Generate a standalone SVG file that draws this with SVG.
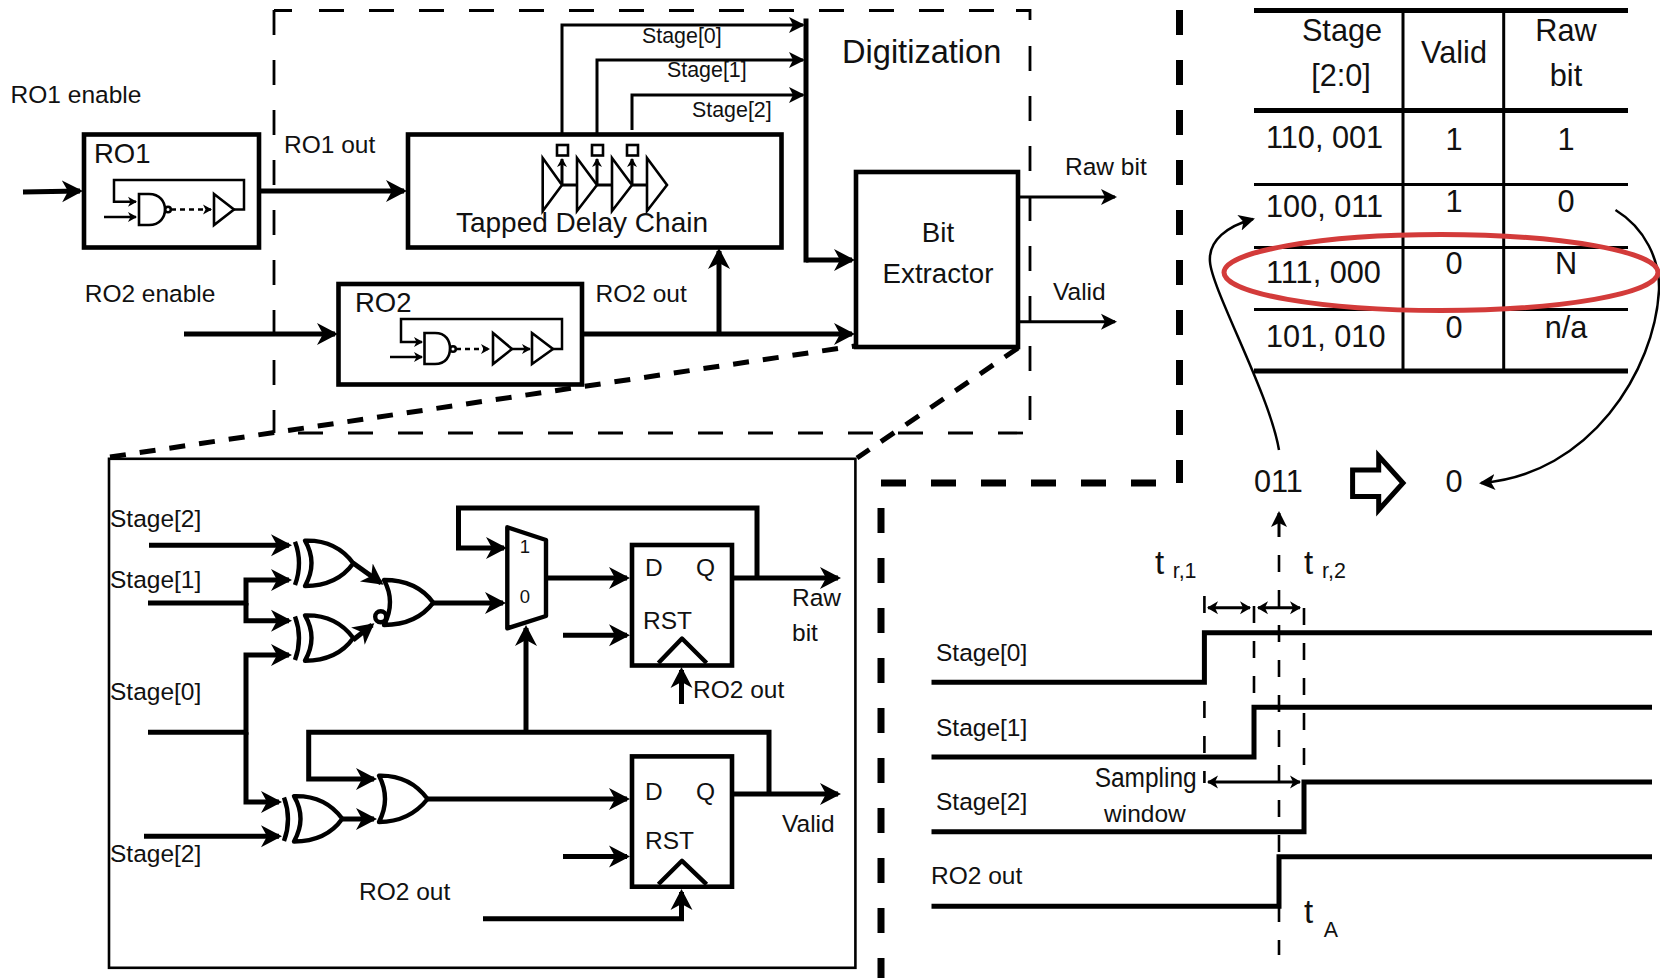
<svg xmlns="http://www.w3.org/2000/svg" width="1660" height="978" viewBox="0 0 1660 978">
<style>
text{font-family:"Liberation Sans",Arial,sans-serif;fill:#111;font-size:24.500px}
.s{font-size:21.400px}.m{font-size:30.700px}.c{text-anchor:middle}
.w5,.w3,.w2,.box,.g,.gt{fill:none;stroke:#000}
.w5{stroke-width:5}.w3{stroke-width:3}.w2{stroke-width:2.5}
.box{fill:#fff;stroke-width:4.6}
.g{fill:#fff;stroke-width:4.4;stroke-linejoin:round}
.gt{fill:#fff;stroke-width:2.6}
.d3{fill:none;stroke:#000;stroke-width:2.8;stroke-dasharray:25 25}
.d7{fill:none;stroke:#000;stroke-width:7;stroke-dasharray:25 25}
.dz{fill:none;stroke:#000;stroke-width:5;stroke-dasharray:16 14}
.dt{fill:none;stroke:#000;stroke-width:2.6;stroke-dasharray:17 18}
.big{marker-end:url(#a5)}.mid{marker-end:url(#a3)}.sm{marker-end:url(#a2)}
.both{marker-start:url(#a2d);marker-end:url(#a2d)}
</style>
<defs>
<marker id="a5" markerUnits="userSpaceOnUse" markerWidth="26" markerHeight="26" refX="18" refY="13" orient="auto"><path d="M0 2L21 13L0 24L6 13z"/></marker>
<marker id="a3" markerUnits="userSpaceOnUse" markerWidth="20" markerHeight="20" refX="14" refY="10" orient="auto"><path d="M0 2L16 10L0 18L4 10z"/></marker>
<marker id="a2" markerUnits="userSpaceOnUse" markerWidth="12" markerHeight="12" refX="8" refY="6" orient="auto"><path d="M0 1L9 6L0 11L2.500 6z"/></marker>
<marker id="a2d" markerUnits="userSpaceOnUse" markerWidth="14" markerHeight="16" refX="10" refY="8" orient="auto-start-reverse"><path d="M0 1.500L11 8L0 14.500L3 8z"/></marker>
<path id="xorb" d="M305 540.700C330 540 345 552 353.300 563.300C345 575 330 586 305 586Q318 563 305 540.700Z"/>
</defs>

<g id="digitization-frame">
<path class="d3" d="M274 10V433"/>
<path class="d3" d="M319 10.500H1016"/>
<path d="M274 10.500H292M1016 10.500H1030V20" fill="none" stroke="#000" stroke-width="2.800"/>
<path class="d3" d="M1030 46V420" stroke-dasharray="24 26"/>
<path class="d3" d="M298 433H1024"/>
<text x="842" y="63" style="font-size:32.600px">Digitization</text>
</g>

<g id="section-dividers">
<path class="d7" d="M1179.500 10V483"/>
<path class="d7" d="M881 483H1156"/>
<path class="d7" d="M881 508V978"/>
</g>

<g id="connectors">
<path class="w5 big" d="M23 192L80 191"/>
<path class="w5 big" d="M260 191H404"/>
<path class="w5 big" d="M184 334H335"/>
<path class="w5 big" d="M582 334H852"/>
<path class="w5 big" d="M719 334V251"/>
<path class="w3 mid" d="M562 134V25H803"/>
<path class="w3 mid" d="M597 134V60H803"/>
<path class="w3 mid" d="M632 130V95H803"/>
<path class="w5" d="M806 21V260" stroke-linecap="square"/>
<path class="w5 big" d="M806 260H852"/>
<path class="w3 mid" d="M1018 197H1115"/>
<path class="w3 mid" d="M1018 321.700H1115"/>
<path class="dz" d="M110 457L855 346"/>
<path class="dz" d="M1018 348L857 458"/>

<path class="w5 big" d="M149 545.300H289"/>
<path class="w5 big" d="M148 603H246V580H289"/>
<path class="w5 big" d="M246 603V620.700H289"/>
<path class="w5 big" d="M148 732.200H246V655H289"/>
<path class="w5 big" d="M246 732.200V802H279"/>
<path class="w5 big" d="M144 836.200H279"/>
<path class="w5 big" d="M353 563L381 583"/>
<path class="w5 big" d="M353 640L372 625"/>
<path class="w5 big" d="M433 603H503"/>
<path class="w5 big" d="M546 578H627"/>
<path class="w5 big" d="M732 578H838"/>
<path class="w5 big" d="M757 578V508H458.500V548H504"/>
<path class="w5 big" d="M563 635.200H627"/>
<path class="w5 big" d="M681.500 704V670"/>
<path class="w5 big" d="M526 732V628"/>
<path class="w5 big" d="M769 794V732.200H308.700V779H374"/>
<path class="w5 big" d="M343 819H374"/>
<path class="w5 big" d="M427.600 799H627"/>
<path class="w5 big" d="M732 794H838"/>
<path class="w5 big" d="M563 856.400H627"/>
<path class="w5 big" d="M483 918.700H681.500V892"/>

<path class="w2 mid" d="M1279 450C1270 395 1212 290 1210 262C1208 240 1228 226 1253 219"/>
<path class="w2 mid" d="M1615.500 210C1645 228 1660 260 1659 290C1655 370 1590 475 1481 483"/>
<path class="dt" d="M1204.400 596V783"/>
<path class="dt" d="M1254 606V707"/>
<path class="dt" d="M1279 555V955"/>
<path class="dt" d="M1304 608V782"/>
<path class="w3 mid" d="M1279 537V513"/>
<path class="w3 both" d="M1208 607.700H1250"/>
<path class="w3 both" d="M1258 607.700H1300"/>
<path class="w3 both" d="M1208 782H1300"/>
</g>

<g id="ro1">
<rect class="box" x="84" y="134.500" width="175" height="113"/>
<text x="94" y="162.500" style="font-size:27.500px">RO1</text>
<path class="w2 sm" d="M234 209.500H244V180H114V201.700H136"/>
<path class="w2 sm" d="M104 217H136"/>
<path class="gt" d="M139 194H149C160 194 165 202 165 209.500C165 217 160 225 149 225H139Z"/>
<circle class="gt" cx="168" cy="209.500" r="2.800"/>
<path class="w2 sm" d="M171 209.500H211" stroke-dasharray="5 4"/>
<path class="gt" d="M214 194L234 209.500L214 225Z"/>
</g>

<g id="ro2">
<rect class="box" x="338.500" y="284" width="243.500" height="100.500"/>
<text x="355" y="312" style="font-size:27.500px">RO2</text>
<path class="w2 sm" d="M553 349H562V319H401V342H422"/>
<path class="w2 sm" d="M390 357H422"/>
<path class="gt" d="M424.500 333H435C446 333 450 341 450 348.500C450 356 446 364 435 364H424.500Z"/>
<circle class="gt" cx="453" cy="349" r="2.800"/>
<path class="w2 sm" d="M456 349H489" stroke-dasharray="5 4"/>
<path class="gt" d="M493 333L512 349L493 364Z"/>
<path class="w2 sm" d="M512 349H530"/>
<path class="gt" d="M532 333L553 349L532 364Z"/>
</g>

<g id="tapped-delay-chain">
<rect class="box" x="408" y="134.500" width="373.500" height="113"/>
<rect class="gt" x="557" y="145" width="11" height="10.500"/>
<rect class="gt" x="592" y="145" width="11" height="10.500"/>
<rect class="gt" x="627" y="145" width="11" height="10.500"/>
<path class="w3" d="M562 185H577M597 185H612M632 185H647" stroke-width="4"/>
<path class="w3 sm" d="M562 184V159"/>
<path class="w3 sm" d="M597 184V159"/>
<path class="w3 sm" d="M632 184V159"/>
<path class="gt" d="M542.700 158L562 185L542.700 211Z"/>
<path class="gt" d="M577 158L597 185L577 211Z"/>
<path class="gt" d="M612 158L632 185L612 211Z"/>
<path class="gt" d="M647 158L667 185L647 211Z"/>
<text x="456" y="232" style="font-size:28px" textLength="252" lengthAdjust="spacing">Tapped Delay Chain</text>
</g>

<g id="bit-extractor">
<rect class="box" x="856" y="172" width="162" height="175"/>
<text class="c" x="938" y="242" style="font-size:27.700px">Bit</text>
<text class="c" x="938" y="283" style="font-size:27.700px">Extractor</text>
</g>

<g id="top-labels">
<text x="10.600" y="102.500">RO1 enable</text>
<text x="84.700" y="301.500">RO2 enable</text>
<text x="284" y="152.500">RO1 out</text>
<text x="595.500" y="301.500">RO2 out</text>
<text class="s" x="642" y="43">Stage[0]</text>
<text class="s" x="667" y="77">Stage[1]</text>
<text class="s" x="692" y="117">Stage[2]</text>
<text x="1065" y="175">Raw bit</text>
<text x="1053" y="300">Valid</text>
</g>

<g id="extractor-detail">
<rect x="109" y="458.800" width="746.400" height="509" fill="none" stroke="#000" stroke-width="2.600"/>
<text x="110" y="526.800">Stage[2]</text>
<text x="110" y="588">Stage[1]</text>
<text x="110" y="699.800">Stage[0]</text>
<text x="110" y="861.500">Stage[2]</text>
<text x="792" y="606">Raw</text>
<text x="792" y="641">bit</text>
<text x="782" y="832">Valid</text>
<text x="693" y="697.500">RO2 out</text>
<text x="359" y="899.500">RO2 out</text>
</g>

<g id="xor1">
<path class="g" d="M295 541.700Q303 563 295 585"/>
<use href="#xorb" class="g"/>
</g>
<g id="xor2">
<path class="g" d="M295 616.400Q303 638 295 660"/>
<use href="#xorb" class="g" y="74.700"/>
</g>
<g id="xor3">
<path class="g" d="M284 797.400Q292 819 284 841"/>
<use href="#xorb" class="g" x="-11" y="255.500"/>
</g>
<g id="nor">
<path class="g" d="M384 580C408 580 424 590 433.300 602.700C424 615 408 625 384 625Q396 602 384 580Z"/>
<circle class="g" cx="380.700" cy="616.700" r="5.500"/>
</g>
<g id="or">
<path class="g" d="M379 775.600C403 775 418 786 427.600 799C418 811 403 822 379 822Q391 799 379 775.600Z"/>
</g>
<g id="mux">
<path class="g" d="M507.300 527.300L546 540V616L507.300 628.300Z" stroke-linejoin="miter"/>
<text class="c" x="525" y="553" style="font-size:18.500px">1</text>
<text class="c" x="525" y="603" style="font-size:18.500px">0</text>
</g>
<g id="dff1">
<rect class="box" x="632" y="545" width="100" height="120.500"/>
<text x="645" y="575.600">D</text><text x="696" y="575.600">Q</text>
<text x="643" y="628.500">RST</text>
<path class="g" d="M658.400 663L682 638.500L706.600 663" stroke-linejoin="miter"/>
</g>
<g id="dff2">
<rect class="box" x="632" y="756.400" width="100" height="130.300"/>
<text x="645" y="800">D</text><text x="696" y="800">Q</text>
<text x="645" y="849">RST</text>
<path class="g" d="M658.400 884.300L682 860.800L706.600 884.300" stroke-linejoin="miter"/>
</g>

<g id="truth-table">
<path d="M1254 10.500H1628M1254 110.500H1628M1254 371H1628" fill="none" stroke="#000" stroke-width="5"/>
<path d="M1254 184.500H1628M1254 247.500H1628M1254 309.500H1628M1403 10V371M1503.700 10V371" fill="none" stroke="#000" stroke-width="3"/>
<text class="m c" x="1342" y="41">Stage</text>
<text class="m c" x="1341" y="86">[2:0]</text>
<text class="m c" x="1454" y="63">Valid</text>
<text class="m c" x="1566" y="41">Raw</text>
<text class="m c" x="1566" y="86">bit</text>
<text class="m" x="1266" y="148">110, 001</text>
<text class="m c" x="1454" y="150">1</text><text class="m c" x="1566" y="150">1</text>
<text class="m" x="1266" y="217">100, 011</text>
<text class="m c" x="1454" y="212">1</text><text class="m c" x="1566" y="212">0</text>
<text class="m" x="1266" y="283">111, 000</text>
<text class="m c" x="1454" y="274">0</text><text class="m c" x="1566" y="274">N</text>
<text class="m" x="1266" y="347">101, 010</text>
<text class="m c" x="1454" y="337.500">0</text><text class="m c" x="1566" y="337.500">n/a</text>
<ellipse cx="1441" cy="272.500" rx="217" ry="38" fill="none" stroke="#d33b3a" stroke-width="5"/>
</g>

<g id="conversion">
<text class="m" x="1254" y="491.500">011</text>
<path d="M1352.600 470H1378.700V456L1403 483L1378.700 510V496.500H1352.600Z" fill="#fff" stroke="#000" stroke-width="5"/>
<text class="m c" x="1454" y="491.500">0</text>
</g>

<g id="timing">
<path class="w5" d="M931.500 682.300H1204.400V632.700H1652"/>
<path class="w5" d="M931.500 757H1254V707.300H1652"/>
<path class="w5" d="M931.500 831.700H1304V782H1652"/>
<path class="w5" d="M931.500 906.300H1279V856.700H1652"/>
<text x="936" y="660.500">Stage[0]</text>
<text x="936" y="735.500">Stage[1]</text>
<text x="936" y="809.500">Stage[2]</text>
<text x="931" y="884.300">RO2 out</text>
<text x="1094.700" y="786.500" style="font-size:27px" textLength="102" lengthAdjust="spacingAndGlyphs">Sampling</text>
<text x="1104" y="821.500">window</text>
<text x="1155" y="574" style="font-size:33px">t</text><text class="s" x="1172.700" y="577.500">r,1</text>
<text x="1304" y="574" style="font-size:33px">t</text><text class="s" x="1322" y="577.500">r,2</text>
<text x="1304" y="923" style="font-size:33px">t</text><text class="s" x="1323.800" y="936.500">A</text>
</g>
</svg>
